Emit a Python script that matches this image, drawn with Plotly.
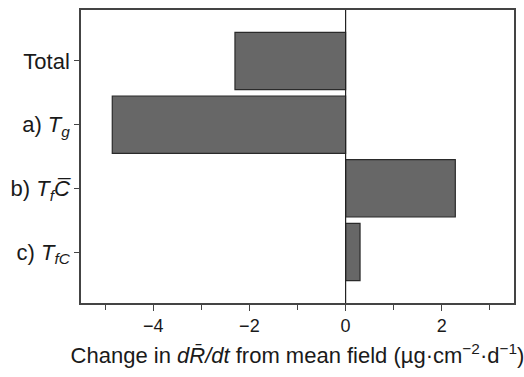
import plotly.graph_objects as go

categories = ["Total", "a) <i>T</i><sub><i>g</i></sub>", "b) <i>T<sub>f</sub>C\u0305</i>", "c) <i>T</i><sub><i>fC</i></sub>"]
values = [-2.30, -4.85, 2.28, 0.30]
positions = [0, 1, 2, 3]
x_ticks = [-4, -2, 0, 2]

fig = go.Figure()
fig.add_trace(go.Bar(
    x=values, y=positions, orientation="h", width=0.9,
    marker=dict(color="#676767", line=dict(color="#2a2a2a", width=1.2)),
))
fig.add_vline(x=0, line=dict(color="#222222", width=1.2))
fig.update_layout(
    width=524, height=377,
    margin=dict(l=81, r=8, t=10, b=74),
    plot_bgcolor="white", paper_bgcolor="white",
    showlegend=False,
    font=dict(family="Liberation Sans, Arial, sans-serif", size=16, color="#1a1a1a"),
)
fig.update_xaxes(
    range=[-5.5, 3.5], tickvals=x_ticks, ticks="outside", ticklen=6, tickcolor="#444",
    showgrid=False, zeroline=False, showline=True, linecolor="#444", linewidth=1.5, mirror=True,
    minor=dict(tickvals=[-5, -3, -1, 1, 3], ticks="outside", ticklen=5, tickcolor="#444"),
    tickfont=dict(size=18),
    title=dict(text="Change in <i>dR\u0304/dt</i> from mean field (\u00b5g\u00b7cm<sup>\u22122</sup>\u00b7d<sup>\u22121</sup>)", font=dict(size=22), standoff=12),
)
fig.update_yaxes(
    range=[3.8, -0.8], tickvals=positions, ticktext=categories, ticks="outside", ticklen=5, tickcolor="#444",
    showgrid=False, zeroline=False, showline=True, linecolor="#444", linewidth=1.5, mirror=True,
    tickfont=dict(size=22),
)
fig.write_html("out.html")
